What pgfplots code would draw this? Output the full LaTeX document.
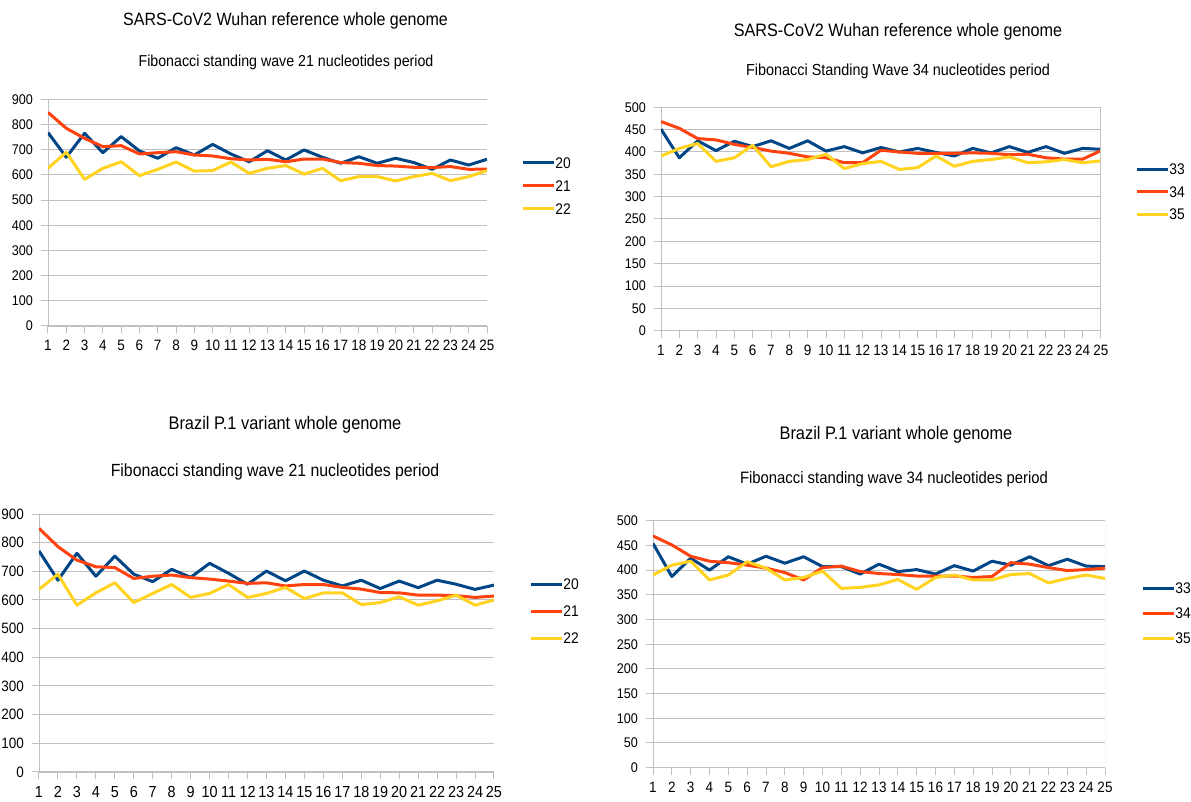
\documentclass[border=0pt]{standalone}
\usepackage{fontspec}
\setmainfont{Liberation Sans}[FakeStretch=0.9]
\usepackage{pgfplots}
\usepackage{pgfplotstable}
\pgfplotsset{compat=1.18}
\definecolor{sA}{HTML}{004586}
\definecolor{sB}{HTML}{FF420E}
\definecolor{sC}{HTML}{FFD320}
\definecolor{gridc}{HTML}{C0C0C0}

\pgfplotstableread{
x a b c
1 768 848 626
2 670 785 690
3 765 745 582
4 688 712 626
5 752 716 652
6 695 683 597
7 666 688 622
8 708 692 651
9 679 679 615
10 721 675 617
11 683 664 651
12 652 659 606
13 696 662 626
14 659 652 637
15 699 663 603
16 670 663 626
17 646 649 577
18 672 646 593
19 646 637 593
20 666 635 576
21 649 630 593
22 622 629 606
23 659 633 577
24 639 622 593
25 662 623 617
}\tA
\pgfplotstableread{
x a b c
1 451 468 391
2 387 453 408
3 425 430 419
4 403 427 379
5 424 417 387
6 412 410 415
7 425 402 367
8 408 397 379
9 425 389 383
10 402 387 395
11 412 376 363
12 398 376 374
13 410 404 379
14 400 400 361
15 408 397 365
16 399 397 391
17 391 397 368
18 408 398 379
19 398 397 383
20 412 394 389
21 399 395 376
22 412 387 378
23 397 384 383
24 408 384 376
25 406 403 380
}\tB
\pgfplotstableread{
x a b c
1 771 850 637
2 669 786 690
3 763 739 582
4 683 716 625
5 753 713 660
6 690 675 591
7 664 683 623
8 707 687 654
9 679 678 609
10 728 673 623
11 693 666 654
12 655 658 609
13 701 660 623
14 667 649 644
15 701 654 605
16 669 654 625
17 649 644 625
18 669 638 584
19 640 626 591
20 666 625 611
21 643 617 582
22 669 617 597
23 655 615 617
24 637 609 582
25 652 614 600
}\tC
\pgfplotstableread{
x a b c
1 454 469 390
2 387 451 410
3 424 428 418
4 400 418 380
5 427 415 390
6 412 410 417
7 428 404 404
8 414 395 380
9 427 380 385
10 407 405 398
11 407 408 363
12 392 397 365
13 412 393 370
14 397 391 381
15 401 388 361
16 392 388 385
17 409 388 390
18 398 385 380
19 418 387 380
20 410 415 391
21 427 412 393
22 409 405 374
23 422 399 383
24 408 401 390
25 407 404 383
}\tD

\pgfplotsset{
  panel/.style={
    scale only axis,
    xmin=1, xmax=25, ymin=0,
    xtick={1,...,25},
    axis x line=bottom, axis y line=left,
    axis line style={gridc,-},
    tick align=outside,
    major tick length=3.5pt,
    tick style={gridc, line width=0.5pt},
    ymajorgrids,
    grid style={gridc, line width=0.5pt},
    /pgf/number format/assume math mode=true,
    yticklabel style={font=\fontsize{7}{8}\selectfont, xshift=-0.5pt},
    xticklabel style={font=\fontsize{7.5}{8}\selectfont},
    legend cell align=left,
    legend image code/.code={\draw[##1] (0pt,0pt) -- (15.5pt,0pt);},
    legend style={draw=none, fill=none, inner sep=0pt, anchor=west,
      font=\fontsize{7.7}{9}\selectfont,
      nodes={inner sep=0pt, text height=5.5pt, text depth=0pt},
      /tikz/every even column/.append style={column sep=2pt}},
    every axis plot/.append style={line width=1.5pt, line join=round, mark=none},
  }
}

\begin{document}
\begin{tikzpicture}
\useasboundingbox (0,0) rectangle (595.5pt,401pt);

% Panel 1
\begin{axis}[panel, at={(24pt,238pt)}, anchor=south west,
  width=219.5pt, height=113.35pt, ymax=900, ytick={0,100,...,900},
  legend style={at={(1,0.618)}, xshift=17pt, row sep=6pt}]
\addplot[sA] table[x=x,y=a]{\tA};
\addplot[sB] table[x=x,y=b]{\tA};
\addplot[sC] table[x=x,y=c]{\tA};
\legend{20,21,22}
\end{axis}
\node[anchor=base, font=\fontsize{8.9}{10}\selectfont] at (142.75pt,388.3pt) {SARS-CoV2 Wuhan reference whole genome};
\node[anchor=base, font=\fontsize{7.9}{9}\selectfont] at (143pt,367.65pt) {Fibonacci standing wave 21 nucleotides period};

% Panel 2
\begin{axis}[panel, at={(330.5pt,235.65pt)}, anchor=south west,
  width=220pt, height=111.7pt, ymax=500, ytick={0,50,...,500},
  legend style={at={(1,0.623)}, xshift=17pt, row sep=5.75pt}]
\addplot[sA] table[x=x,y=a]{\tB};
\addplot[sB] table[x=x,y=b]{\tB};
\addplot[sC] table[x=x,y=c]{\tB};
\legend{33,34,35}
\draw[gridc, line width=0.5pt] (rel axis cs:1,0) -- (rel axis cs:1,1);
\end{axis}
\node[anchor=base, font=\fontsize{9}{10}\selectfont] at (449pt,382.8pt) {SARS-CoV2 Wuhan reference whole genome};
\node[anchor=base, font=\fontsize{8}{9}\selectfont] at (449pt,363.15pt) {Fibonacci Standing Wave 34 nucleotides period};

% Panel 3
\begin{axis}[panel, at={(19.5pt,15pt)}, anchor=south west,
  width=227.5pt, height=129pt, ymax=900, ytick={0,100,...,900},
  xticklabel style={font=\fontsize{8}{9}\selectfont},
  yticklabel style={font=\fontsize{7.5}{8}\selectfont},
  legend style={at={(1,0.624)}, xshift=17.5pt, row sep=8pt}]
\addplot[sA] table[x=x,y=a]{\tC};
\addplot[sB] table[x=x,y=b]{\tC};
\addplot[sC] table[x=x,y=c]{\tC};
\legend{20,21,22}
\end{axis}
\node[anchor=base, font=\fontsize{9.1}{10}\selectfont] at (142.5pt,186.25pt) {Brazil P.1 variant whole genome};
\node[anchor=base, font=\fontsize{8.8}{10}\selectfont] at (137.5pt,162.85pt) {Fibonacci standing wave 21 nucleotides period};

% Panel 4
\begin{axis}[panel, at={(326.5pt,17.15pt)}, anchor=south west,
  width=226pt, height=123.5pt, ymax=500, ytick={0,50,...,500},
  legend style={at={(1,0.626)}, xshift=18pt, row sep=7pt}]
\addplot[sA] table[x=x,y=a]{\tD};
\addplot[sB] table[x=x,y=b]{\tD};
\addplot[sC] table[x=x,y=c]{\tD};
\legend{33,34,35}
\draw[gridc, line width=0.5pt] (rel axis cs:1,0) -- (rel axis cs:1,1);
\end{axis}
\node[anchor=base, font=\fontsize{9.1}{10}\selectfont] at (448pt,181.25pt) {Brazil P.1 variant whole genome};
\node[anchor=base, font=\fontsize{8.25}{9}\selectfont] at (447pt,159pt) {Fibonacci standing wave 34 nucleotides period};
\end{tikzpicture}
\end{document}
